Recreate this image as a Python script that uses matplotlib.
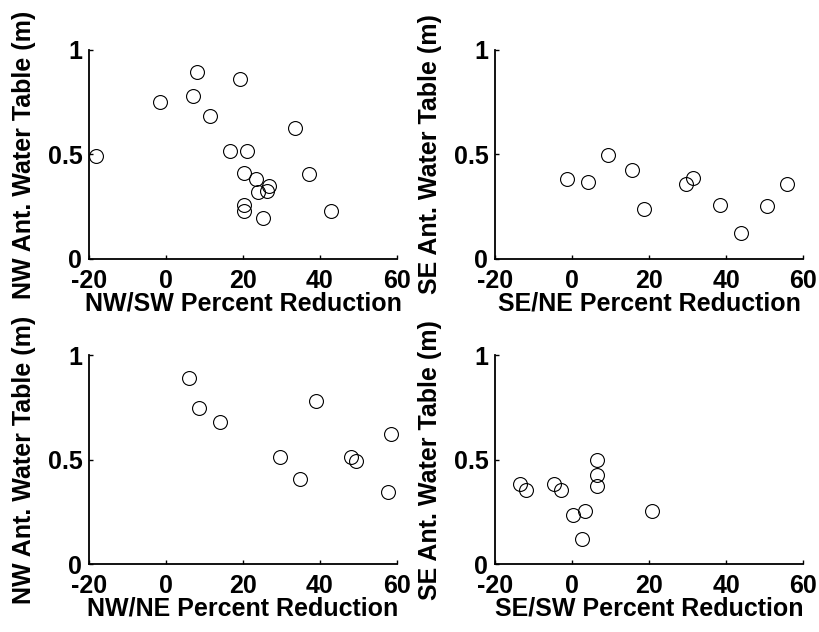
import matplotlib
matplotlib.use("Agg")
import matplotlib.pyplot as plt

plt.rcParams['font.family'] = ['Liberation Sans', 'DejaVu Sans']
plt.rcParams['font.weight'] = 'bold'
plt.rcParams['axes.unicode_minus'] = False

# NW/SW
nwsw_x = [-18.3, -1.5, 7.1, 8.05, 11.3, 19.3, 16.6, 21.0, 33.6, 20.3,
          23.3, 26.8, 23.8, 26.2, 20.2, 20.2, 25.2, 37.1, 43.0]
nwsw_y = [0.494, 0.751, 0.781, 0.893, 0.684, 0.860, 0.517, 0.517, 0.627, 0.411,
          0.381, 0.349, 0.322, 0.325, 0.258, 0.228, 0.195, 0.405, 0.230]
# SE/NE
sene_x = [-1.5, 4.2, 9.35, 15.4, 18.6, 29.6, 31.3, 38.4, 43.9, 50.7, 55.8]
sene_y = [0.384, 0.370, 0.498, 0.427, 0.238, 0.357, 0.389, 0.257, 0.123, 0.254, 0.357]
# NW/NE
nwne_x = [5.9, 8.5, 14.0, 39.0, 29.6, 34.9, 48.2, 49.3, 58.4, 57.7]
nwne_y = [0.892, 0.750, 0.681, 0.780, 0.515, 0.410, 0.515, 0.493, 0.624, 0.346]
# SE/SW
sesw_x = [-13.6, -12.1, -4.8, -3.0, 0.2, 3.3, 2.4, 6.5, 6.4, 6.4, 20.8]
sesw_y = [0.383, 0.356, 0.386, 0.356, 0.238, 0.255, 0.121, 0.497, 0.426, 0.373, 0.254]

panels = [
    (nwsw_x, nwsw_y, "NW/SW Percent Reduction", "NW Ant. Water Table (m)"),
    (sene_x, sene_y, "SE/NE Percent Reduction", "SE Ant. Water Table (m)"),
    (nwne_x, nwne_y, "NW/NE Percent Reduction", "NW Ant. Water Table (m)"),
    (sesw_x, sesw_y, "SE/SW Percent Reduction", "SE Ant. Water Table (m)"),
]
positions = [
    [0.1089, 0.5902, 0.3749, 0.3307],
    [0.6040, 0.5902, 0.3756, 0.3307],
    [0.1089, 0.1071, 0.3749, 0.3307],
    [0.6040, 0.1071, 0.3756, 0.3307],
]

fig = plt.figure(figsize=(8.2, 6.32), dpi=100)
for (x, y, xl, yl), pos in zip(panels, positions):
    ax = fig.add_axes(pos)
    ax.plot(x, y, 'o', mfc='none', mec='black', ms=10, mew=0.8, clip_on=False)
    ax.set_xlim(-20, 60)
    ax.set_ylim(0, 1)
    ax.set_xticks([-20, 0, 20, 40, 60])
    ax.set_yticks([0, 0.5, 1])
    ax.set_yticklabels(['0', '0.5', '1'])
    ax.spines['top'].set_visible(False)
    ax.spines['right'].set_visible(False)
    for s in ['left', 'bottom']:
        ax.spines[s].set_linewidth(1.3)
    ax.tick_params(direction='in', length=3, width=1, labelsize=18)
    ax.tick_params(axis='x', pad=7)
    ax.tick_params(axis='y', pad=5)
    for lab in ax.get_xticklabels() + ax.get_yticklabels():
        lab.set_fontweight('bold')
    ax.set_xlabel(xl, fontsize=18, fontweight='bold', labelpad=-1)
    ax.set_ylabel(yl, fontsize=18, fontweight='bold')
    ax.yaxis.set_label_coords(-0.172, 0.5)

fig.savefig("out.png", dpi=100)
